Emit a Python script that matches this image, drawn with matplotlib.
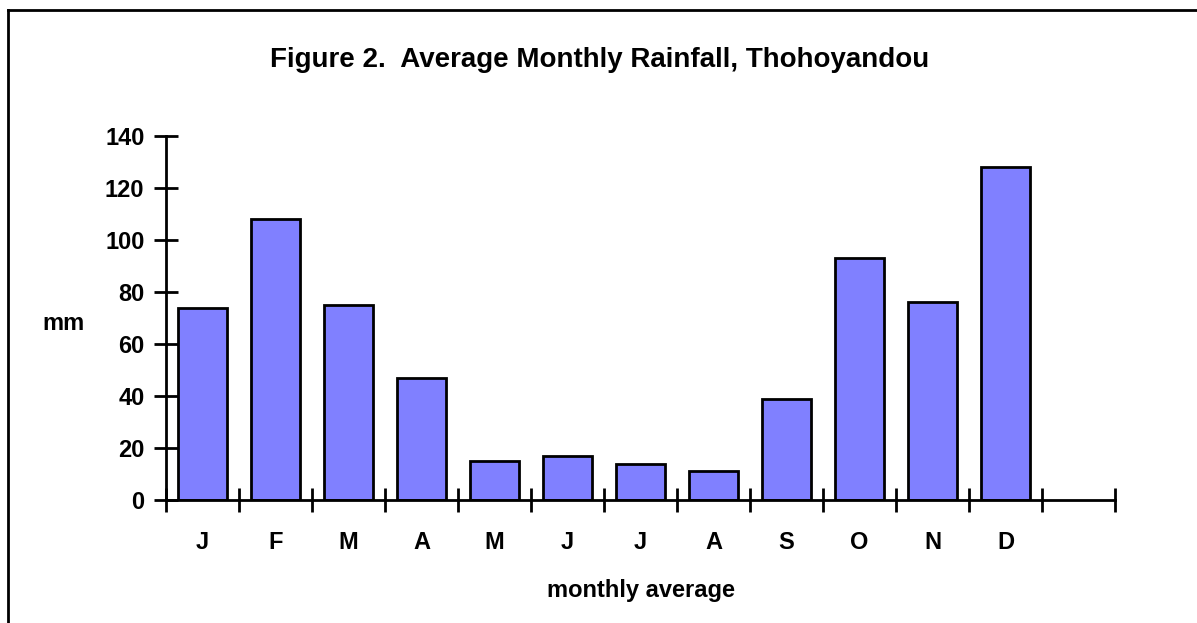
import matplotlib.pyplot as plt
import numpy as np
from matplotlib.lines import Line2D

months = ["J", "F", "M", "A", "M", "J", "J", "A", "S", "O", "N", "D"]
rainfall_mm = [74, 108, 75, 47, 15, 17, 14, 11, 39, 93, 76, 128]

plt.rcParams["font.family"] = "Liberation Sans"
plt.rcParams["font.weight"] = "bold"

W, H = 1197, 623
fig = plt.figure(figsize=(W / 100, H / 100), dpi=100)
ax = fig.add_axes([166 / W, 1 - 500 / H, (1115 - 166) / W, (500 - 136) / H])

x = np.arange(len(months)) + 0.5
ax.bar(x, rainfall_mm, width=0.68, color="#8080FF", edgecolor="black", linewidth=2)

ax.set_xlim(0, 13)
ax.set_ylim(0, 140)
ax.set_yticks(np.arange(0, 141, 20))
ax.set_xticks(np.arange(0, 14))
ax.set_xticklabels([])
ax.set_xticks(x, minor=True)
ax.set_xticklabels(months, minor=True)

for s in ["top", "right"]:
    ax.spines[s].set_visible(False)
for s in ["left", "bottom"]:
    ax.spines[s].set_linewidth(2)

ax.tick_params(axis="both", which="major", direction="inout", length=17, width=2,
               labelsize=17)
ax.tick_params(axis="y", pad=7)
ax.tick_params(axis="x", which="minor", length=0, pad=22, labelsize=17)

ax.set_ylabel("mm", fontsize=17, fontweight="bold", rotation=0, va="center", ha="center")
ax.yaxis.set_label_coords(-103 / (1115 - 166), (500 - 323) / (500 - 136))
ax.set_xlabel("monthly average", fontsize=17, fontweight="bold", va="center")
ax.xaxis.set_label_coords((641 - 166) / (1115 - 166), -90 / (500 - 136))

fig.text(600 / W, 1 - 60 / H, "Figure 2.  Average Monthly Rainfall, Thohoyandou",
         ha="center", va="center", fontsize=20, fontweight="bold")

# border (left and top edges visible in the crop)
fig.add_artist(Line2D([8 / W, 8 / W], [0, 1 - 10 / H], color="black", linewidth=2,
                      transform=fig.transFigure))
fig.add_artist(Line2D([8 / W, 1], [1 - 10 / H, 1 - 10 / H], color="black", linewidth=2,
                      transform=fig.transFigure))

fig.savefig("out.png", dpi=100)
